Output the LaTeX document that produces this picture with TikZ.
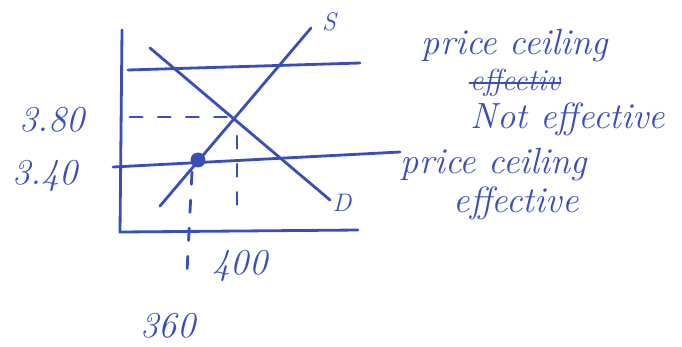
\documentclass[tikz,border=0pt]{standalone}
\usepackage{tikz}
\usetikzlibrary{positioning}
\definecolor{ink}{RGB}{58,78,186}

\begin{document}
\begin{tikzpicture}[x=0.02cm, y=-0.02cm,
  pen/.style={draw=ink, line width=1.6pt, line cap=round},
  guide/.style={pen, dash pattern=on 7pt off 9pt},
  hand/.style={text=ink, font=\huge\itshape, inner sep=0pt}]
\useasboundingbox (0,0) rectangle (682,346);
% axes
\coordinate (top) at (122,30);
\coordinate (origin) at (120,232);
\coordinate (qend) at (358,230);
\draw[pen] (top) -- (origin) -- (qend);
% ceilings
\coordinate (hiL) at (128,70);
\coordinate (hiR) at (360,63);
\coordinate (loL) at (113,167);
\coordinate (loR) at (400,152);
\draw[pen] (hiL) -- (hiR);
\draw[pen] (loL) -- (loR);
% supply and demand
\coordinate (sL) at (160,206);
\coordinate (sR) at (311,28);
\coordinate (dL) at (150,48);
\coordinate (dR) at (330,200);
\draw[pen] (sL) -- (sR);
\draw[pen] (dL) -- (dR);
\node[hand, font=\Large\itshape] (slab) at (329,22) {S};
\node[hand, font=\Large\itshape] (dlab) at (342,203) {D};
% equilibrium and shortage
\coordinate (eq) at (240,117);
\coordinate (pstar) at (130,117);
\coordinate (eqdown) at (237,212);
\draw[guide] (pstar) -- (eq);
\draw[guide] (237,136) -- (eqdown);
\node[circle, fill=ink, inner sep=3pt] (qs) at (198,160) {};
\coordinate (qsdown) at (187,272);
\draw[guide] (192,172) -- (qsdown);
% labels
\node[hand] (p380) at (52,120) {3.80};
\node[hand] (p340) at (45,176) {3.40};
\node[hand] (q400) at (240,266) {400};
\node[hand] (q360) at (168,326) {360};
\node[hand] (pc1) at (515,46) {price ceiling};
\node[hand, font=\LARGE\itshape] (eff) at (515,83) {effectiv};
\draw[pen, line width=1.2pt] (eff.west) -- (eff.east);
\node[hand] (noteff) at (568,119) {Not effective};
\node[hand] (pc2) at (494,165) {price ceiling};
\node[hand] (effy) at (516,203) {effective};
\end{tikzpicture}
\end{document}
